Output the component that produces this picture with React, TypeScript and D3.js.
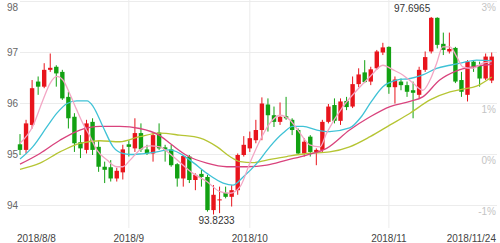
import React from "react";
import * as d3 from "d3";

const dates = [
  "2018-08-08","2018-08-09","2018-08-10","2018-08-13","2018-08-14","2018-08-15","2018-08-16","2018-08-17","2018-08-20","2018-08-21",
  "2018-08-22","2018-08-23","2018-08-24","2018-08-27","2018-08-28","2018-08-29","2018-08-30","2018-08-31",
  "2018-09-03","2018-09-04","2018-09-05","2018-09-06","2018-09-07","2018-09-10","2018-09-11","2018-09-12","2018-09-13","2018-09-14",
  "2018-09-17","2018-09-18","2018-09-19","2018-09-20","2018-09-21","2018-09-24","2018-09-25","2018-09-26","2018-09-27","2018-09-28",
  "2018-10-01","2018-10-02","2018-10-03","2018-10-04","2018-10-05","2018-10-08","2018-10-09","2018-10-10","2018-10-11","2018-10-12",
  "2018-10-15","2018-10-16","2018-10-17","2018-10-18","2018-10-19","2018-10-22","2018-10-23","2018-10-24","2018-10-25","2018-10-26",
  "2018-10-29","2018-10-30","2018-10-31",
  "2018-11-01","2018-11-02","2018-11-05","2018-11-06","2018-11-07","2018-11-08","2018-11-09","2018-11-12","2018-11-13","2018-11-14",
  "2018-11-15","2018-11-16","2018-11-19","2018-11-20","2018-11-21","2018-11-22","2018-11-23","2018-11-24",
];

const opens = [
  95.20,95.09,95.58,96.43,96.33,96.66,96.72,96.62,96.13,95.74,95.24,95.09,95.64,95.15,94.76,94.75,94.53,94.65,
  95.20,95.12,95.42,95.10,95.02,95.43,95.14,95.10,94.81,94.53,94.96,94.50,94.62,94.56,93.91,94.10,94.25,94.17,94.30,94.99,
  95.12,95.28,95.48,95.98,95.77,95.64,95.75,95.68,95.48,95.02,95.35,95.04,95.09,95.64,95.97,95.66,96.05,95.94,96.38,96.61,96.43,96.69,97.00,
  97.11,96.32,96.43,96.36,96.26,96.17,96.66,97.02,97.68,97.17,97.02,97.09,96.46,96.17,96.82,96.75,96.49,96.45,
];
const highs = [
  95.40,95.68,96.46,96.53,96.79,96.98,96.75,96.66,96.23,95.81,95.38,95.68,95.71,95.28,94.86,94.89,94.74,95.19,
  95.28,95.71,95.61,95.19,95.42,95.61,95.19,95.19,94.83,94.99,94.99,94.63,94.70,94.60,94.40,94.37,94.37,94.40,95.02,95.36,
  95.45,95.68,96.12,96.10,95.94,96.02,96.13,95.71,95.51,95.32,95.38,95.12,95.68,95.99,96.10,96.10,96.13,96.53,96.69,96.85,96.72,97.05,97.19,
  97.12,96.53,96.49,96.43,96.43,96.72,97.02,97.6965,97.69,97.39,97.39,97.11,96.62,96.85,96.85,96.82,96.98,97.00,
];
const lows = [
  94.99,95.02,95.51,96.17,96.30,96.62,96.33,96.07,95.51,95.05,94.93,95.02,94.99,94.66,94.44,94.47,94.47,94.51,
  94.96,95.05,95.05,94.99,94.86,95.09,94.86,94.76,94.37,94.37,94.44,94.30,94.37,93.88,93.8233,93.85,94.14,93.98,94.21,94.96,
  95.05,95.22,95.28,95.45,95.54,95.58,95.68,95.38,94.99,94.96,94.96,94.79,95.05,95.61,95.61,95.58,95.87,95.91,96.32,96.40,96.36,96.66,96.95,
  96.19,96.00,96.26,96.13,95.71,96.10,96.62,96.98,97.08,96.95,96.98,96.40,96.13,96.04,96.62,96.33,96.46,96.40,
];
const closes = [
  95.09,95.61,96.30,96.33,96.66,96.70,96.59,96.10,95.71,95.22,95.12,95.61,95.09,94.76,94.70,94.53,94.68,95.10,
  95.15,95.42,95.10,95.02,95.38,95.12,95.10,94.79,94.53,94.97,94.50,94.60,94.56,93.91,94.21,94.12,94.17,94.30,94.99,95.19,
  95.32,95.48,96.00,95.77,95.64,95.74,95.71,95.48,95.02,95.25,95.05,95.09,95.64,95.94,95.66,96.04,95.93,96.38,96.57,96.42,96.67,97.02,97.10,
  96.32,96.47,96.36,96.23,96.21,96.66,96.91,97.68,97.15,97.05,97.07,96.43,96.23,96.82,96.72,96.49,96.92,96.92,
];

// moving average lines: [candle index, value]
const ma5 = [[0,95.22],[2.1,95.55],[3.8,96.07],[5,96.40],[6.1,96.53],[7.1,96.46],[8.3,96.17],[9.4,95.87],[10.4,95.61],[11.6,95.35],[12.7,95.09],[14.4,94.89],[16,94.76],[17,94.76],[18.2,94.89],[19.8,95.09],[21.5,95.17],[23.1,95.15],[25.3,94.96],[28.6,94.63],[30.9,94.47],[33.1,94.27],[34.7,94.24],[36.4,94.37],[38,94.83],[39.7,95.28],[41.3,95.61],[43,95.77],[44.6,95.68],[46.3,95.42],[47.9,95.19],[49.6,95.15],[50.7,95.42],[53.4,95.94],[55.7,96.26],[57.9,96.53],[60,96.75],[61.7,96.66],[63.3,96.56],[65,96.40],[66.6,96.26],[67.8,96.46],[68.9,96.79],[69.9,97.11],[71.1,97.11],[72.2,96.92],[73.2,96.72],[74.9,96.69],[76.5,96.79],[78,96.82]];
const ma10 = [[0,94.91],[2.1,95.15],[4.5,95.55],[6.1,95.81],[7.8,96.00],[9.4,96.05],[11.1,96.05],[12.1,95.94],[13.7,95.55],[15.4,95.15],[17,95.02],[18.2,95.00],[19.8,95.01],[22,95.04],[24.8,95.09],[28.1,94.89],[30.9,94.63],[33.6,94.44],[35.2,94.40],[36.9,94.56],[39.2,94.83],[41.3,95.15],[43.5,95.42],[45.1,95.55],[46.8,95.55],[49.1,95.48],[51.2,95.45],[54.5,95.52],[56.5,95.75],[58,96.02],[60,96.33],[62.3,96.46],[64.5,96.49],[66.6,96.56],[68.9,96.69],[71.1,96.75],[73.2,96.80],[75.5,96.85],[78,96.84]];
const ma20 = [[0,94.81],[3.3,95.02],[6.6,95.28],[9.9,95.48],[13.2,95.55],[16.5,95.55],[19.8,95.51],[23,95.38],[25,95.2],[27.6,94.98],[30.9,94.83],[34.2,94.76],[37.5,94.76],[40.8,94.79],[44.1,94.89],[47.4,94.99],[50.7,95.12],[54.5,95.48],[57.9,95.74],[61.2,95.94],[64.5,96.04],[66.6,96.13],[69.4,96.46],[72.2,96.64],[74.9,96.72],[78,96.77]];
const ma30 = [[0,94.71],[3.3,94.83],[6.6,95.05],[9.9,95.22],[13.2,95.27],[16.5,95.25],[19.8,95.35],[23.1,95.42],[26.4,95.38],[29.8,95.32],[32.6,95.15],[34.7,94.96],[36.4,94.86],[38.5,94.84],[40.8,94.89],[44.1,94.96],[47.4,95.02],[51.2,95.05],[54.5,95.15],[57.9,95.35],[61.2,95.58],[64.5,95.81],[67.8,96.07],[71.1,96.23],[73.2,96.28],[75.5,96.34],[78,96.52]];

const priceTicks = [94, 95, 96, 97, 98];
const pctTicks = [-1, 0, 1, 3];
const dateTicks = ["2018-08-08", "2018-09-03", "2018-10-01", "2018-11-01", "2018-11-24"];
const dateTickLabels = ["2018/8/8", "2018/9", "2018/10", "2018/11", "2018/11/24"];

const W = 500, H = 243;
const UP = "#e8141c", DOWN = "#12a112";
const FONT = "'Liberation Sans', Arial, sans-serif";

export default function App() {
  const n = dates.length;
  const x = d3.scaleLinear().domain([0, n - 1]).range([20, 491.7]);
  const y = d3.scaleLinear().domain([94, 98]).range([205.5, 1.5]);
  const yPct = d3.scaleLinear().domain([-1, 3]).range([211, 7]);
  const line = d3.line<number[]>().x(d => x(d[0])).y(d => y(d[1])).curve(d3.curveMonotoneX);

  const hiIdx = d3.maxIndex(highs);
  const loIdx = d3.minIndex(lows);

  const lines = [
    { data: ma30, color: "#b6c534" },
    { data: ma20, color: "#d9437d" },
    { data: ma10, color: "#3fc2d6" },
    { data: ma5, color: "#f3a6c4" },
  ];

  return (
    <svg width={W} height={H} style={{ position: "absolute", left: 0, top: 0, background: "#fff" }} fontFamily={FONT}>
      {priceTicks.map(v => (
        <line key={"hg" + v} x1={20} x2={497} y1={y(v)} y2={y(v)} stroke="#ececec" strokeWidth={1} />
      ))}
      {dateTicks.slice(1, 4).map(d => {
        const xi = x(dates.indexOf(d));
        return <line key={"vg" + d} x1={xi} x2={xi} y1={0} y2={228} stroke="#ececec" strokeWidth={1} />;
      })}
      {priceTicks.map(v => (
        <text key={"pl" + v} x={7} y={Math.max(y(v) + 3.6, 11)} fontSize={10} fill="#666">{v}</text>
      ))}
      {pctTicks.map(p => (
        <text key={"pc" + p} x={496} y={yPct(p) + 3.6} fontSize={10} fill="#c4c4c4" textAnchor="end">{p + "%"}</text>
      ))}
      {dates.map((d, i) => {
        const up = closes[i] >= opens[i];
        const c = up ? UP : DOWN;
        const xi = x(i);
        const top = y(Math.max(opens[i], closes[i]));
        const bot = y(Math.min(opens[i], closes[i]));
        return (
          <g key={d}>
            <line x1={xi} x2={xi} y1={y(highs[i])} y2={y(lows[i])} stroke={c} strokeWidth={1} />
            <rect x={xi - 2.2} y={top} width={4.4} height={Math.max(1, bot - top)} fill={c} />
          </g>
        );
      })}
      {lines.map((l, k) => (
        <path key={"ma" + k} d={line(l.data) || ""} fill="none" stroke={l.color} strokeWidth={1.3} />
      ))}
      <text x={x(hiIdx) - 1} y={y(highs[hiIdx]) - 5} fontSize={10} fill="#333" textAnchor="end">{highs[hiIdx].toFixed(4)}</text>
      <text x={x(loIdx) + 3} y={y(lows[loIdx]) + 9.5} fontSize={10} fill="#333" textAnchor="middle">{lows[loIdx].toFixed(4)}</text>
      {dateTicks.map((d, k) => {
        const xi = x(dates.indexOf(d));
        const first = k === 0, last = k === dateTicks.length - 1;
        return (
          <text key={"dl" + d} x={first ? 17 : last ? 496 : xi} y={242} fontSize={10} fill="#444"
            textAnchor={first ? "start" : last ? "end" : "middle"}>{dateTickLabels[k]}</text>
        );
      })}
    </svg>
  );
}
